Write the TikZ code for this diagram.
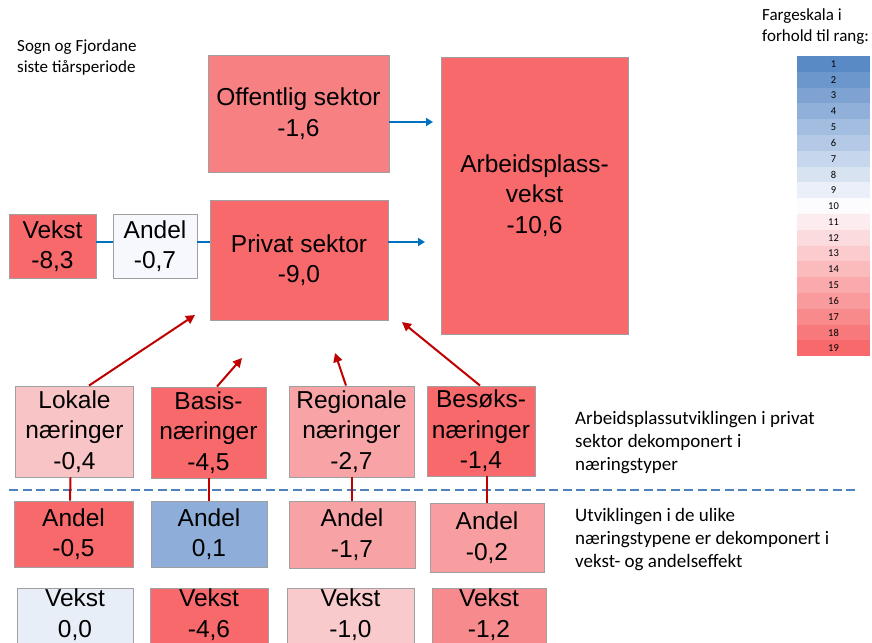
\documentclass[tikz,border=0pt]{standalone}
\usepackage{fontspec}
\setmainfont{Liberation Sans}
\newfontfamily\notefont{Carlito}
\usetikzlibrary{arrows.meta}
\definecolor{bgray}{RGB}{160,160,160}
\definecolor{cblue}{HTML}{0070C0}
\definecolor{cred}{HTML}{C00000}
\definecolor{cdash}{HTML}{4F81BD}
\definecolor{sB}{HTML}{5A8AC6}
\definecolor{sW}{HTML}{FCFCFF}
\definecolor{sR}{HTML}{F8696B}
\definecolor{fRed}{HTML}{F8696B}
\definecolor{fOff}{HTML}{F78083}
\definecolor{fWhite}{HTML}{F7F8FE}
\definecolor{fLok}{HTML}{F9C4C6}
\definecolor{fReg}{HTML}{F8A4A6}
\definecolor{fAreg}{HTML}{F7A2A4}
\definecolor{fAbes}{HTML}{F89EA0}
\definecolor{fBlue}{HTML}{8EADD9}
\definecolor{fVlok}{HTML}{E8EEF8}
\definecolor{fVreg}{HTML}{F9CACC}
\definecolor{fVbes}{HTML}{F78A8D}
\newcommand{\liftup}{\rule[-10pt]{0pt}{0pt}}
\begin{document}
\begin{tikzpicture}[x=1pt,y=-1pt,
  box/.style={draw=bgray, line width=0.9pt, align=center, inner sep=0pt, font=\fontsize{24.5}{30.5}\selectfont},
  note/.style={anchor=north west, align=left, inner sep=0pt, font=\notefont\fontsize{19}{23.2}\selectfont},
  smallnote/.style={anchor=north west, align=left, inner sep=0pt, font=\notefont\fontsize{17}{21.5}\selectfont},
  bluearrow/.style={draw=cblue, line width=2pt, -{Triangle[length=7pt,width=8pt]}},
  blueline/.style={draw=cblue, line width=2pt},
  redarrow/.style={draw=cred, line width=2pt, -{Triangle[length=9pt,width=9pt]}},
  redline/.style={draw=cred, line width=2pt},
  sepline/.style={draw=cdash, line width=2.5pt, dash pattern=on 9pt off 4.5pt},
  cell/.style={minimum width=73pt, minimum height=15.8pt, inner sep=0pt, font=\notefont\fontsize{10.5}{12}\selectfont}]
\useasboundingbox (0,0) rectangle (872,642);
\clip (0,0) rectangle (872,642);
\fill[white] (0,0) rectangle (872,642);

% notes
\node[smallnote] (title) at (17,39) {Sogn og Fjordane\\siste tiårsperiode};
\node[smallnote] (scaletitle) at (762,8) {Fargeskala i\\forhold til rang:};
\node[note] (note1) at (575,411) {Arbeidsplassutviklingen i privat\\sektor dekomponert i\\næringstyper};
\node[note] (note2) at (575,508) {Utviklingen i de ulike\\næringstypene er dekomponert i\\vekst- og andelseffekt};

% colour scale
\foreach \i in {1,...,19} {
  \pgfmathsetmacro{\p}{ifthenelse(\i<10,(10-\i)*100/9,(\i-10)*100/9)}
  \ifnum\i<10 \colorlet{cc}{sB!\p!sW}\else\colorlet{cc}{sR!\p!sW}\fi
  \node[cell, fill=cc] (s\i) at (833.5,{56+(\i-0.5)*15.8}) {\i};
}

% top boxes
\node[box, fill=fOff, minimum width=181pt, minimum height=117pt] (off) at (298.5,113.5) {Offentlig sektor\\-1,6};
\node[box, fill=fRed, minimum width=187pt, minimum height=277pt] (arb) at (534.5,195.5) {Arbeidsplass-\\vekst\\-10,6};
\node[box, fill=fRed, minimum width=178pt, minimum height=120pt] (priv) at (299,260) {Privat sektor\\-9,0};
\node[box, fill=fRed, minimum width=87pt, minimum height=64pt] (vek) at (52.5,246) {Vekst\\-8,3};
\node[box, fill=fWhite, minimum width=84pt, minimum height=64pt] (and) at (155,246) {Andel\\-0,7};

% industry boxes
\node[box, fill=fLok, minimum width=118pt, minimum height=91pt] (lok) at (74.5,431.5) {Lokale\\næringer\\-0,4};
\node[box, fill=fRed, minimum width=115pt, minimum height=91pt] (bas) at (208.5,432.5) {Basis-\\næringer\\-4,5};
\node[box, fill=fReg, minimum width=125pt, minimum height=91pt] (reg) at (351.5,431.5) {Regionale\\næringer\\-2,7};
\node[box, fill=fRed, minimum width=108pt, minimum height=90pt] (bes) at (481,431) {Besøks-\\næringer\\-1,4};

% andel row
\node[box, fill=fRed, minimum width=119pt, minimum height=66pt] (a1) at (73.5,534) {Andel\\-0,5};
\node[box, fill=fBlue, minimum width=116pt, minimum height=66pt] (a2) at (209,534) {Andel\\0,1};
\node[box, fill=fAreg, minimum width=126pt, minimum height=67pt] (a3) at (352,534.5) {Andel\\-1,7};
\node[box, fill=fAbes, minimum width=114pt, minimum height=69pt] (a4) at (487,537.5) {Andel\\-0,2};

% vekst row (cut by the lower edge)
\node[box, fill=fVlok, minimum width=116pt, minimum height=58pt] (v1) at (75,618) {Vekst\\0,0\liftup};
\node[box, fill=fRed, minimum width=118pt, minimum height=58pt] (v2) at (209,618) {Vekst\\-4,6\liftup};
\node[box, fill=fVreg, minimum width=127pt, minimum height=58pt] (v3) at (350.5,618) {Vekst\\-1,0\liftup};
\node[box, fill=fVbes, minimum width=114pt, minimum height=58pt] (v4) at (489,618) {Vekst\\-1,2\liftup};

% blue connectors
\coordinate (oa) at (433,122);
\coordinate (pa) at (425,242);
\draw[blueline] ([yshift=4pt]vek.east) -- ([yshift=4pt]and.west);
\draw[blueline] ([yshift=4pt]and.east) -- ([yshift=18pt]priv.west);
\draw[bluearrow] ([yshift=18pt]priv.east) -- (pa);
\draw[bluearrow] ([yshift=-8.5pt]off.east) -- (oa);

% red arrows
\coordinate (t1) at (195,315);
\coordinate (t2) at (242,358);
\coordinate (t3) at (335,353);
\coordinate (t4) at (402,322);
\draw[redarrow] ([xshift=14.5pt]lok.north) -- (t1);
\draw[redarrow] ([xshift=8.5pt]bas.north) -- (t2);
\draw[redarrow] ([xshift=-5.5pt]reg.north) -- (t3);
\draw[redarrow] ([xshift=-1pt]bes.north) -- (t4);

% dashed separator
\coordinate (d1) at (9,490);
\coordinate (d2) at (856,490);
\draw[sepline] (d1) -- (d2);

% red verticals
\draw[redline] ([xshift=-4pt]lok.south) -- ([xshift=-3.5pt]a1.north);
\draw[redline] (a2.north |- bas.south) -- (a2.north);
\draw[redline] (a3.north |- reg.south) -- (a3.north);
\draw[redline] (a4.north |- bes.south) -- (a4.north);
\end{tikzpicture}
\end{document}
